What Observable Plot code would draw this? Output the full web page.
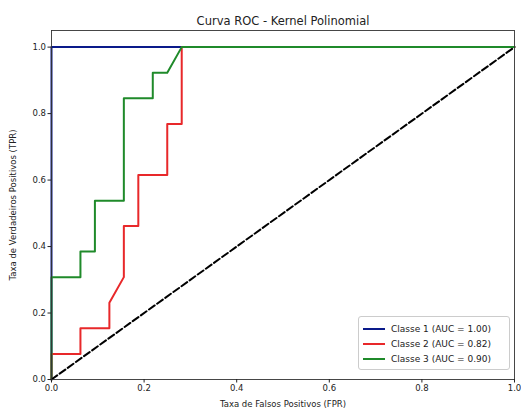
<!DOCTYPE html>
<html>
<head>
<meta charset="utf-8">
<script src="https://cdn.jsdelivr.net/npm/d3@7"></script>
<script src="https://cdn.jsdelivr.net/npm/@observablehq/plot@0.6"></script>
<style>
  html, body { margin: 0; padding: 0; background: #fff; }
  #wrap { position: relative; width: 521px; height: 409px; font-family: "DejaVu Sans", sans-serif; }
  #legend { position: absolute; left: 358px; top: 316px; width: 152px; height: 54px; box-sizing: border-box;
    border: 1px solid #ccc; border-radius: 3px; background: rgba(255,255,255,0.8); font-size: 9px; color: #222; padding: 4px 0 0 4px; }
  .row { display: flex; align-items: center; height: 15px; }
  .sw { width: 22px; height: 0; border-top: 2px solid; margin-right: 6px; }
</style>
</head>
<body>
<div id="wrap"></div>
<script>
const title = "Curva ROC - Kernel Polinomial";
const xLabel = "Taxa de Falsos Positivos (FPR)";
const yLabel = "Taxa de Verdadeiros Positivos (TPR)";
const classNames = ["Classe 1 (AUC = 1.00)", "Classe 2 (AUC = 0.82)", "Classe 3 (AUC = 0.90)"];
const colors = ["#0a1a8a", "#e8282a", "#1f8a2a"];
const ticks = [0, 0.2, 0.4, 0.6, 0.8, 1.0];

const fpr1 = [0, 0, 1];
const tpr1 = [0, 1, 1];
const fpr2 = [0, 0, 0.0625, 0.0625, 0.125, 0.125, 0.15625, 0.15625, 0.1875, 0.1875, 0.25, 0.25, 0.28125, 0.28125, 1];
const tpr2 = [0, 0.077, 0.077, 0.154, 0.154, 0.231, 0.308, 0.462, 0.462, 0.615, 0.615, 0.769, 0.769, 1, 1];
const fpr3 = [0, 0, 0.0625, 0.0625, 0.09375, 0.09375, 0.15625, 0.15625, 0.21875, 0.21875, 0.25, 0.28125, 1];
const tpr3 = [0, 0.308, 0.308, 0.385, 0.385, 0.538, 0.538, 0.846, 0.846, 0.923, 0.923, 1, 1];
const diagX = [0, 1];
const diagY = [0, 1];

const series = [[fpr1, tpr1], [fpr2, tpr2], [fpr3, tpr3]];
const lineMarks = series.map(([fx, ty], i) =>
  Plot.line(fx.map((x, j) => ({x, y: ty[j]})), {x: "x", y: "y", stroke: colors[i], strokeWidth: 2})
);

const chart = Plot.plot({
  width: 521,
  height: 409,
  marginLeft: 51,
  marginRight: 7,
  marginTop: 30,
  marginBottom: 30,
  style: {fontFamily: "DejaVu Sans, sans-serif", fontSize: "8.5px", color: "#222", background: "#fff"},
  x: {domain: [0, 1]},
  y: {domain: [0, 1.05]},
  marks: [
    ...lineMarks,
    Plot.line(diagX.map((x, j) => ({x, y: diagY[j]})), {x: "x", y: "y", stroke: "black", strokeWidth: 2, strokeDasharray: "7,3"}),
    Plot.frame({stroke: "#333", strokeWidth: 0.9}),
    Plot.axisX({ticks, tickFormat: d3.format(".1f"), tickSize: 3.5, tickPadding: 2, label: xLabel, labelAnchor: "center", labelArrow: "none", labelOffset: 27, fontSize: 8.5}),
    Plot.axisY({ticks, tickFormat: d3.format(".1f"), tickSize: 3.5, tickPadding: 2, label: yLabel, labelAnchor: "center", labelArrow: "none", labelOffset: 42, fontSize: 8.5}),
    Plot.text([title], {frameAnchor: "top", dy: -14, fontSize: 11.5, text: d => d})
  ]
});
document.getElementById("wrap").appendChild(chart);

const leg = document.createElement("div");
leg.id = "legend";
classNames.forEach((n, i) => {
  const r = document.createElement("div");
  r.className = "row";
  r.innerHTML = `<span class="sw" style="border-color:${colors[i]}"></span><span>${n}</span>`;
  leg.appendChild(r);
});
document.getElementById("wrap").appendChild(leg);
</script>
</body>
</html>
